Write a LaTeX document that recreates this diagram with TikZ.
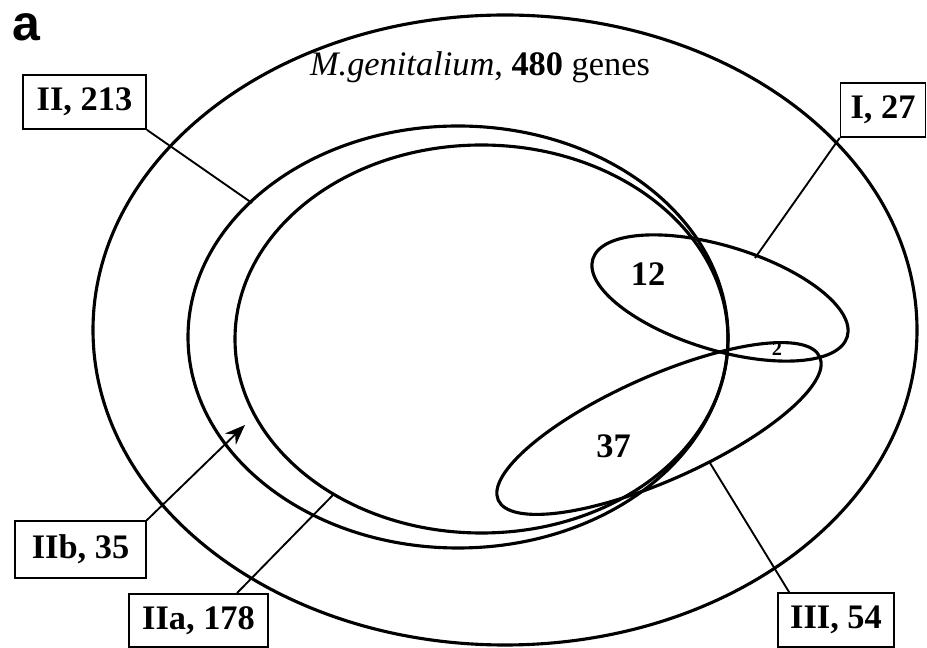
\documentclass[tikz,border=0pt]{standalone}
\usepackage{fontspec}
\setmainfont{Liberation Serif}
\newfontfamily\panelfont{Liberation Sans}
\usetikzlibrary{arrows.meta}

\begin{document}
\begin{tikzpicture}[x=0.32pt,y=0.32pt,>={Stealth[length=6.5pt,width=5pt]}]
  \tikzstyle{set}=[line width=1pt]
  \tikzstyle{lead}=[line width=0.6pt]
  \tikzstyle{tag}=[draw,line width=0.5pt,inner sep=0pt,minimum height=17.3pt,
    font=\fontsize{11}{13}\selectfont\bfseries]
  \useasboundingbox (0,0) rectangle (927,648);
  \draw[set] (505,318) ellipse [x radius=412,y radius=315];
  \draw[set] (458,311) ellipse [x radius=270,y radius=211];
  \draw[set] (481.5,309) ellipse [x radius=246.5,y radius=194];
  \draw[set] (720,350) ellipse [x radius=133,y radius=52,rotate=-17];
  \draw[set] (659,219.5) ellipse [x radius=176,y radius=52,rotate=24];
  \node[font=\panelfont\fontsize{16}{18}\selectfont\bfseries] (pa) at (26.5,621) {a};
  \node[font=\fontsize{11}{13}\selectfont] (title) at (480,581)
    {\textit{M.genitalium}, \textbf{480} genes};
  \node[font=\fontsize{11}{13}\selectfont\bfseries] (n12) at (648,374) {12};
  \node[font=\fontsize{11}{13}\selectfont\bfseries] (n37) at (613.5,201.5) {37};
  \node[font=\fontsize{6.5}{7}\selectfont\bfseries] (n2) at (777,299) {2};
  \node[tag,minimum width=39.4pt] (II213) at (84.5,546) {II, 213};
  \node[tag,minimum width=27.2pt] (I27) at (883,538) {I, 27};
  \node[tag,minimum width=41.9pt,minimum height=18.2pt] (IIb35) at (80.5,98.5) {IIb, 35};
  \node[tag,minimum width=44.5pt,minimum height=17pt] (IIa178) at (198.5,27.5) {IIa, 178};
  \node[tag,minimum width=37.1pt] (III54) at (836,28) {III, 54};
  \coordinate (onII) at (252,445);
  \coordinate (onI) at (755,390);
  \coordinate (onIIb) at (245,223);
  \coordinate (onIIa) at (333,153);
  \coordinate (onIII) at (710,185);
  \draw[lead] (II213.south east)--(onII);
  \draw[lead] (I27.south west)--(onI);
  \draw[lead,->] (IIb35.north east)--(onIIb);
  \draw[lead] ([xshift=12.3pt]IIa178.north)--(onIIa);
  \draw[lead] ([xshift=3.8pt]III54.north west)--(onIII);
\end{tikzpicture}
\end{document}
